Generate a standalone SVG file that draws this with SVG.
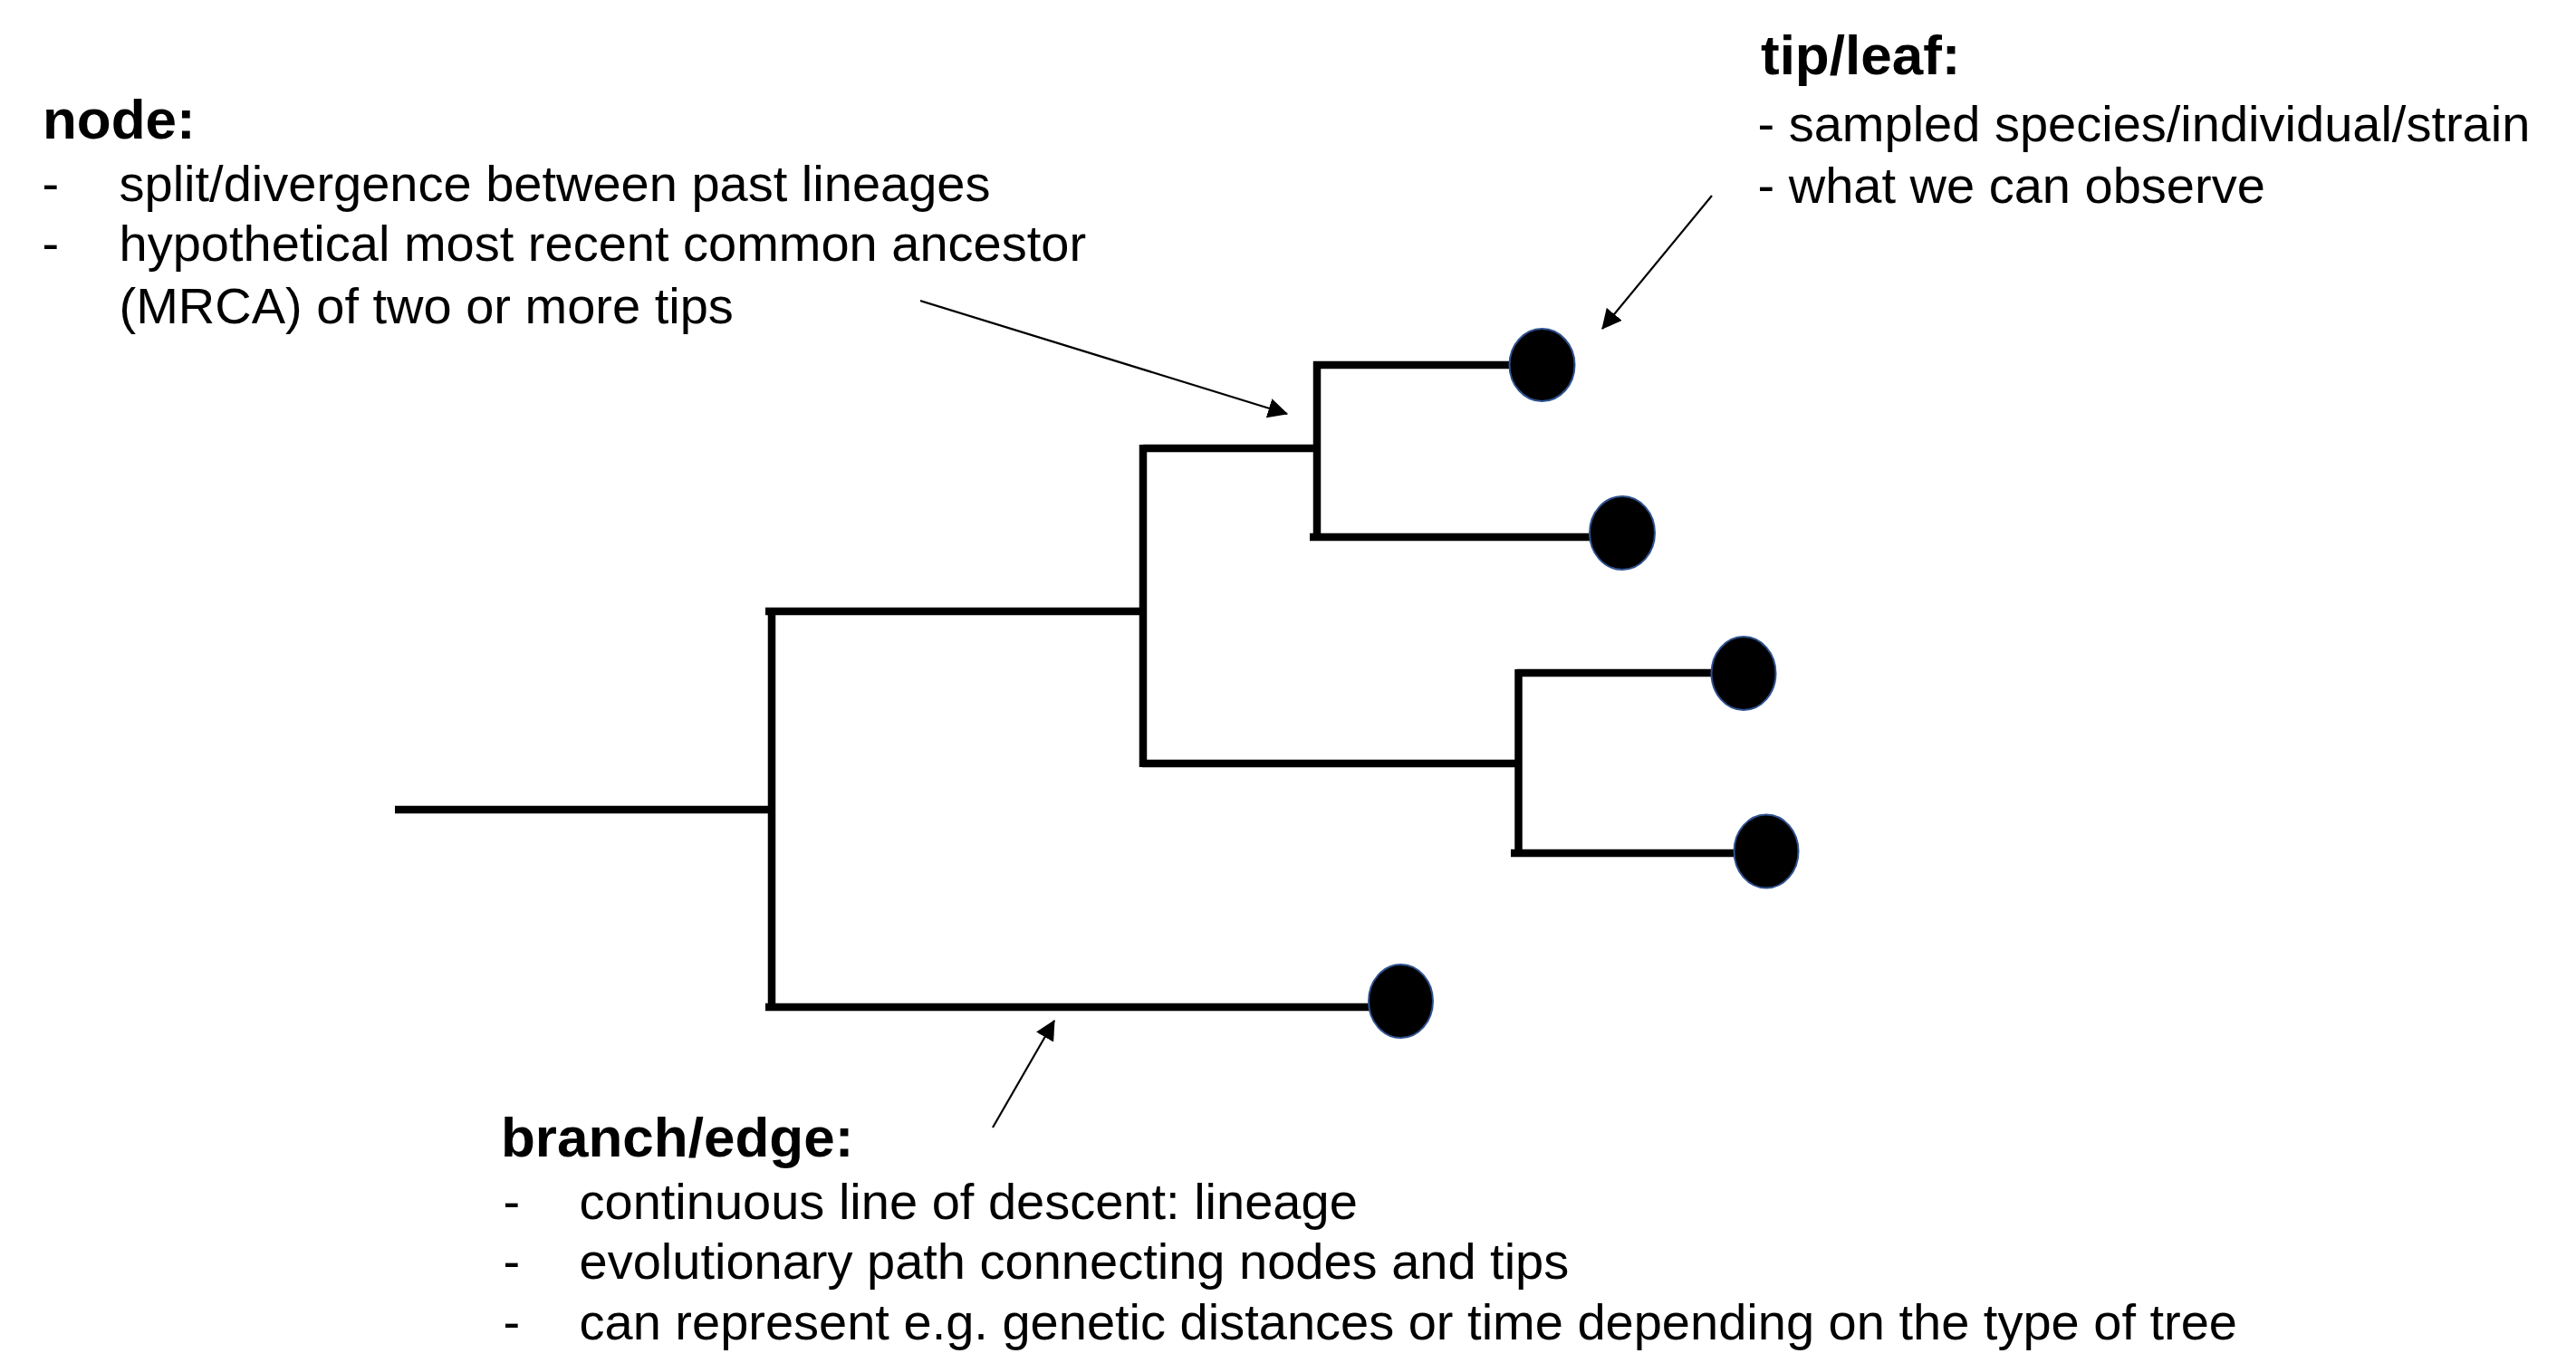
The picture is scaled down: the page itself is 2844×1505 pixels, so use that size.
<svg xmlns="http://www.w3.org/2000/svg" width="2844" height="1505" viewBox="0 0 2844 1505">
<style>
.h{font-family:"Liberation Sans",Arial,sans-serif;font-weight:bold;font-size:62px;fill:#000}
.t{font-family:"Liberation Sans",Arial,sans-serif;font-size:56px;fill:#000}
.edge{stroke:#000;stroke-width:8.5;fill:none;stroke-linecap:butt}
.ptr{stroke:#000;stroke-width:2.2;fill:none}
.tip{fill:#000;stroke:#2f528f;stroke-width:2}
</style>
<defs>
<marker id="ah" markerUnits="userSpaceOnUse" markerWidth="22" markerHeight="22" viewBox="0 0 20 20" refX="19" refY="10" orient="auto">
<path d="M0,0 L20,10 L0,20 z" fill="#000"/>
</marker>
</defs>
<rect width="2844" height="1505" fill="#fff"/>
<g id="connectors">
<line class="edge" x1="436" y1="894" x2="852" y2="894"/>
<line class="edge" x1="852" y1="671" x2="852" y2="1116"/>
<line class="edge" x1="845" y1="675" x2="1262" y2="675"/>
<line class="edge" x1="845" y1="1112" x2="1547" y2="1112"/>
<line class="edge" x1="1262" y1="491" x2="1262" y2="847"/>
<line class="edge" x1="1262" y1="495" x2="1454" y2="495"/>
<line class="edge" x1="1261" y1="843" x2="1676" y2="843"/>
<line class="edge" x1="1454" y1="399" x2="1454" y2="597"/>
<line class="edge" x1="1450" y1="403" x2="1702" y2="403"/>
<line class="edge" x1="1446" y1="593" x2="1791" y2="593"/>
<line class="edge" x1="1676.5" y1="739" x2="1676.5" y2="946"/>
<line class="edge" x1="1675" y1="743" x2="1925" y2="743"/>
<line class="edge" x1="1668" y1="942" x2="1950" y2="942"/>
<line class="ptr" x1="1016" y1="332" x2="1421" y2="457" marker-end="url(#ah)"/>
<line class="ptr" x1="1890" y1="216" x2="1769" y2="363" marker-end="url(#ah)"/>
<line class="ptr" x1="1096" y1="1245" x2="1164" y2="1127" marker-end="url(#ah)"/>
</g>
<g id="tip1"><ellipse class="tip" cx="1702.5" cy="403" rx="36" ry="40"/></g>
<g id="tip2"><ellipse class="tip" cx="1791" cy="588.5" rx="36" ry="40.5"/></g>
<g id="tip3"><ellipse class="tip" cx="1925" cy="743.5" rx="35.5" ry="40.5"/></g>
<g id="tip4"><ellipse class="tip" cx="1950" cy="940" rx="35.5" ry="40.5"/></g>
<g id="tip5"><ellipse class="tip" cx="1546.5" cy="1105.5" rx="35.5" ry="40.5"/></g>
<g id="label-node">
<text class="h" x="47" y="153">node:</text>
<text class="t" x="46.5" y="221.7">-</text>
<text class="t" x="131.5" y="221.7">split/divergence between past lineages</text>
<text class="t" x="46.5" y="288.3">-</text>
<text class="t" x="131.5" y="288.3">hypothetical most recent common ancestor</text>
<text class="t" x="131.5" y="356.7">(MRCA) of two or more tips</text>
</g>
<g id="label-tip">
<text class="h" x="1944" y="82">tip/leaf:</text>
<text class="t" x="1940.5" y="156">- sampled species/individual/strain</text>
<text class="t" x="1940.5" y="224">- what we can observe</text>
</g>
<g id="label-branch">
<text class="h" x="553" y="1277">branch/edge:</text>
<text class="t" x="555.5" y="1345.7">-</text>
<text class="t" x="639.5" y="1345.7">continuous line of descent: lineage</text>
<text class="t" x="555.5" y="1412.3">-</text>
<text class="t" x="639.5" y="1412.3">evolutionary path connecting nodes and tips</text>
<text class="t" x="555.5" y="1479">-</text>
<text class="t" x="639.5" y="1479">can represent e.g. genetic distances or time depending on the type of tree</text>
</g>
</svg>
